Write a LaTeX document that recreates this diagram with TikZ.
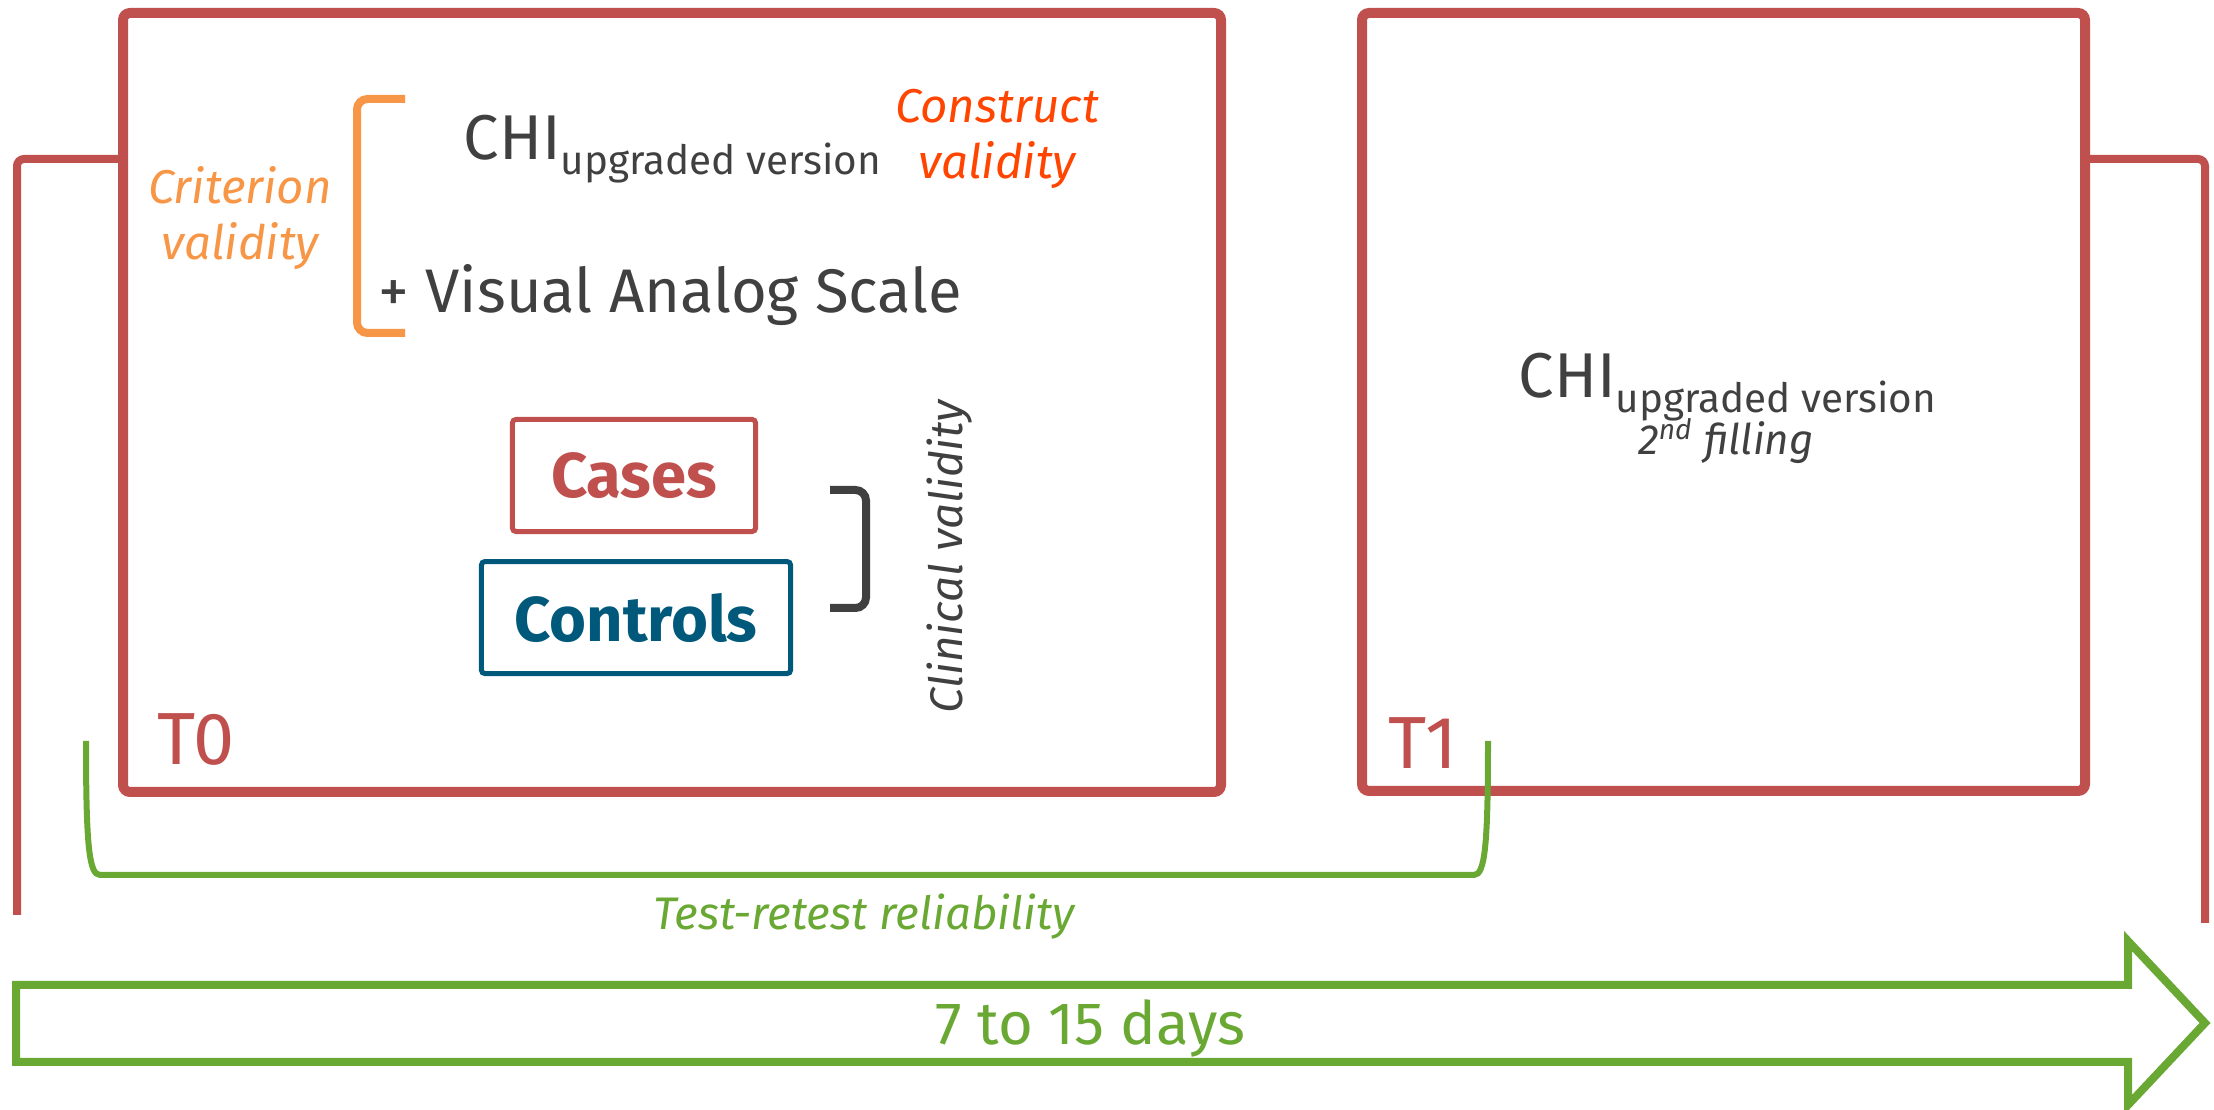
\documentclass[tikz,border=0pt]{standalone}
\usepackage{fontspec}
\setmainfont{Fira Sans}
\usepackage{tikz}
\usetikzlibrary{positioning, calc}
\definecolor{frameRed}{HTML}{C0504D}
\definecolor{retestGreen}{HTML}{6AA834}
\definecolor{controlBlue}{HTML}{00587A}
\definecolor{criterionOrange}{HTML}{F79646}
\definecolor{constructOrange}{HTML}{FF4500}
\definecolor{textGray}{HTML}{404040}

\begin{document}
\begin{tikzpicture}[
  x=0.01cm, y=-0.01cm,
  timebox/.style={draw=frameRed, line width=10*0.01cm, rounded corners=2pt},
  sidebar/.style={draw=frameRed, line width=8*0.01cm, rounded corners=2pt},
  bracket/.style={line width=8*0.01cm, rounded corners=3pt},
  groupbox/.style={
    rectangle,
    line width=5*0.01cm,
    rounded corners=1pt,
    minimum height=1.12cm,
    font=\fontsize{18}{21}\selectfont\bfseries
  },
  plain/.style={inner sep=0pt, text=textGray},
  validity/.style={inner sep=0pt, align=center, font=\fontsize{13.5}{16}\selectfont\itshape}
]
  \useasboundingbox (0,0) rectangle (2214,1110);

  % Time frames
  \draw[timebox] (123,13) rectangle (1221,792);
  \draw[timebox] (1362,13) rectangle (2085,791);
  \draw[sidebar] (17,915) -- (17,159) -- (123,159);
  \draw[sidebar] (2085,159) -- (2205,159) -- (2205,923);

  \node[plain, anchor=base west, text=frameRed, font=\fontsize{21}{24}\selectfont] (t0) at (157,765) {T0};
  \node[plain, anchor=base west, text=frameRed, font=\fontsize{21}{24}\selectfont] (t1) at (1388,769) {T1};

  % Questionnaires at T0
  \node[plain, anchor=base west, font=\fontsize{18}{21}\selectfont] (chi0) at (463,160)
    {CHI\raisebox{-4pt}{\fontsize{11.5}{14}\selectfont upgraded version}};
  \node[plain, anchor=base west, font=\fontsize{17.5}{21}\selectfont] (vas) at (378,313)
    {+ Visual Analog Scale};
  \node[validity, text=constructOrange] (construct) at (997,139) {Construct\\validity};
  \node[validity, text=criterionOrange] (criterion) at (240,218) {Criterion\\validity};
  \draw[bracket, draw=criterionOrange] (405,99) -- (357,99) -- (357,333) -- (405,333);

  % Groups
  \node[groupbox, draw=frameRed, text=frameRed, minimum width=2.43cm] (cases) at (634,475.5) {Cases};
  \node[groupbox, draw=controlBlue, text=controlBlue, minimum width=3.09cm, below=0.25cm of cases.south, anchor=north, xshift=0.02cm] (controls) {Controls};
  \draw[bracket, draw=textGray] (830,490) -- (866,490) -- (866,608) -- (830,608);
  \node[plain, rotate=90, font=\fontsize{13}{15}\selectfont\itshape] (clinical) at (950,557) {Clinical validity};

  % Questionnaire at T1
  \node[plain, anchor=base west, font=\fontsize{18}{21}\selectfont] (chi1) at (1518,398)
    {CHI\raisebox{-4pt}{\fontsize{11.5}{14}\selectfont upgraded version}};
  \node[plain, anchor=base, font=\fontsize{12}{14}\selectfont\itshape] (filling) at (1726,455)
    {2\textsuperscript{nd} filling};

  % Test-retest
  \draw[draw=retestGreen, line width=6*0.01cm]
    (86,741) .. controls (86,845) and (89,875) .. (100,875) -- (1474,875)
    .. controls (1485,875) and (1488,845) .. (1488,741);
  \node[plain, anchor=base, text=retestGreen, font=\fontsize{13}{15}\selectfont\itshape] (retest) at (864,930)
    {Test-retest reliability};

  % Time arrow
  \draw[draw=retestGreen, line width=8*0.01cm, line join=miter]
    (16,985) -- (2128,985) -- (2128,941) -- (2205,1023) -- (2128,1105) -- (2128,1062) -- (16,1062) -- cycle;
  \node[plain, anchor=base, text=retestGreen, font=\fontsize{17}{20}\selectfont] (days) at (1090,1045) {7 to 15 days};
\end{tikzpicture}
\end{document}
